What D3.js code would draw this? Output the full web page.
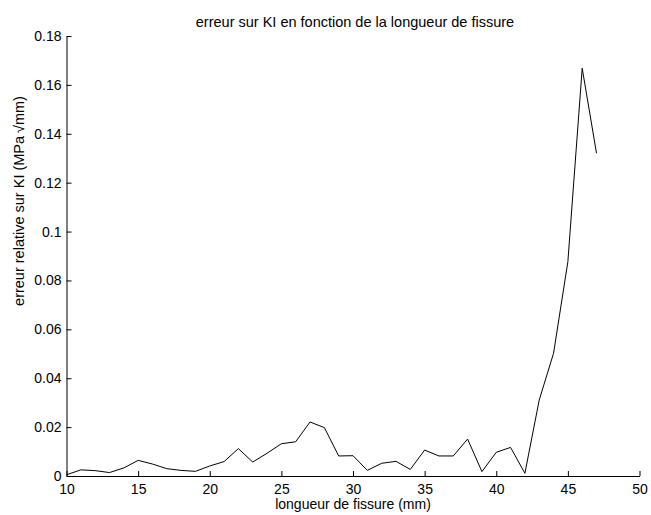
<!DOCTYPE html>
<html><head><meta charset="utf-8">
<script src="https://cdn.jsdelivr.net/npm/d3@7"></script>
<style>body{margin:0;background:#fff}svg{display:block}text{font-family:"Liberation Sans",Arial,sans-serif;fill:#000}</style>
</head><body>
<script>
const lengths = [10,11,12,13,14,15,16,17,18,19,20,21,22,23,24,25,26,27,28,29,30,31,32,33,34,35,36,37,38,39,40,41,42,43,44,45,46,47];
const errors = [0.0005,0.0025,0.0022,0.0014,0.0033,0.0064,0.0049,0.0030,0.0023,0.0019,0.0041,0.0059,0.0112,0.0057,0.0093,0.0132,0.0140,0.0221,0.0198,0.0082,0.0083,0.0023,0.0052,0.0060,0.0027,0.0106,0.0082,0.0082,0.0151,0.0018,0.0097,0.0117,0.0011,0.0311,0.0502,0.0877,0.1668,0.1320];
const xTicks = [10,15,20,25,30,35,40,45,50];
const yTicks = [0,0.02,0.04,0.06,0.08,0.1,0.12,0.14,0.16,0.18];
const title = "erreur sur KI en fonction de la longueur de fissure";
const xLabel = "longueur de fissure (mm)";
const yLabel = "erreur relative sur KI (MPa\u2009\u221Amm)";

const W=651,H=515, L=66.5, R=639.5, T=36, B=476;
const svg=d3.select("body").append("svg").attr("width",W).attr("height",H);
const x=d3.scaleLinear().domain([10,50]).range([L,R]);
const y=d3.scaleLinear().domain([0,0.18]).range([B,T]);

const fmt=d=>d===0?"0":String(+d.toFixed(2));
const gx=svg.append("g").attr("transform",`translate(0,${B})`)
  .call(d3.axisBottom(x).tickValues(xTicks).tickSizeInner(-5).tickSizeOuter(0).tickPadding(5).tickFormat(d3.format("d")));
const gy=svg.append("g").attr("transform",`translate(${L},0)`)
  .call(d3.axisLeft(y).tickValues(yTicks).tickSizeInner(-5).tickSizeOuter(0).tickPadding(5).tickFormat(fmt));
[gx,gy].forEach(g=>{g.select(".domain").attr("stroke","#000").attr("stroke-width",1);
  g.selectAll(".tick line").attr("stroke","#000");
  g.selectAll(".tick text").attr("font-size",14).attr("font-family","Liberation Sans, Arial, sans-serif").attr("fill","#000");});
gx.selectAll(".tick text").attr("dy",null).attr("y",18);

svg.append("path").datum(lengths.map((l,i)=>[l,errors[i]]))
  .attr("fill","none").attr("stroke","#000").attr("stroke-width",1)
  .attr("d",d3.line().x(d=>x(d[0])).y(d=>y(d[1])));

svg.append("text").attr("x",(L+R)/2+2).attr("y",27).attr("text-anchor","middle").attr("font-size",14.5).text(title);
svg.append("text").attr("x",(L+R)/2).attr("y",509).attr("text-anchor","middle").attr("font-size",14).text(xLabel);
svg.append("text").attr("transform",`translate(24,201) rotate(-90)`).attr("text-anchor","middle").attr("font-size",14.5).text(yLabel);
</script>
</body></html>
